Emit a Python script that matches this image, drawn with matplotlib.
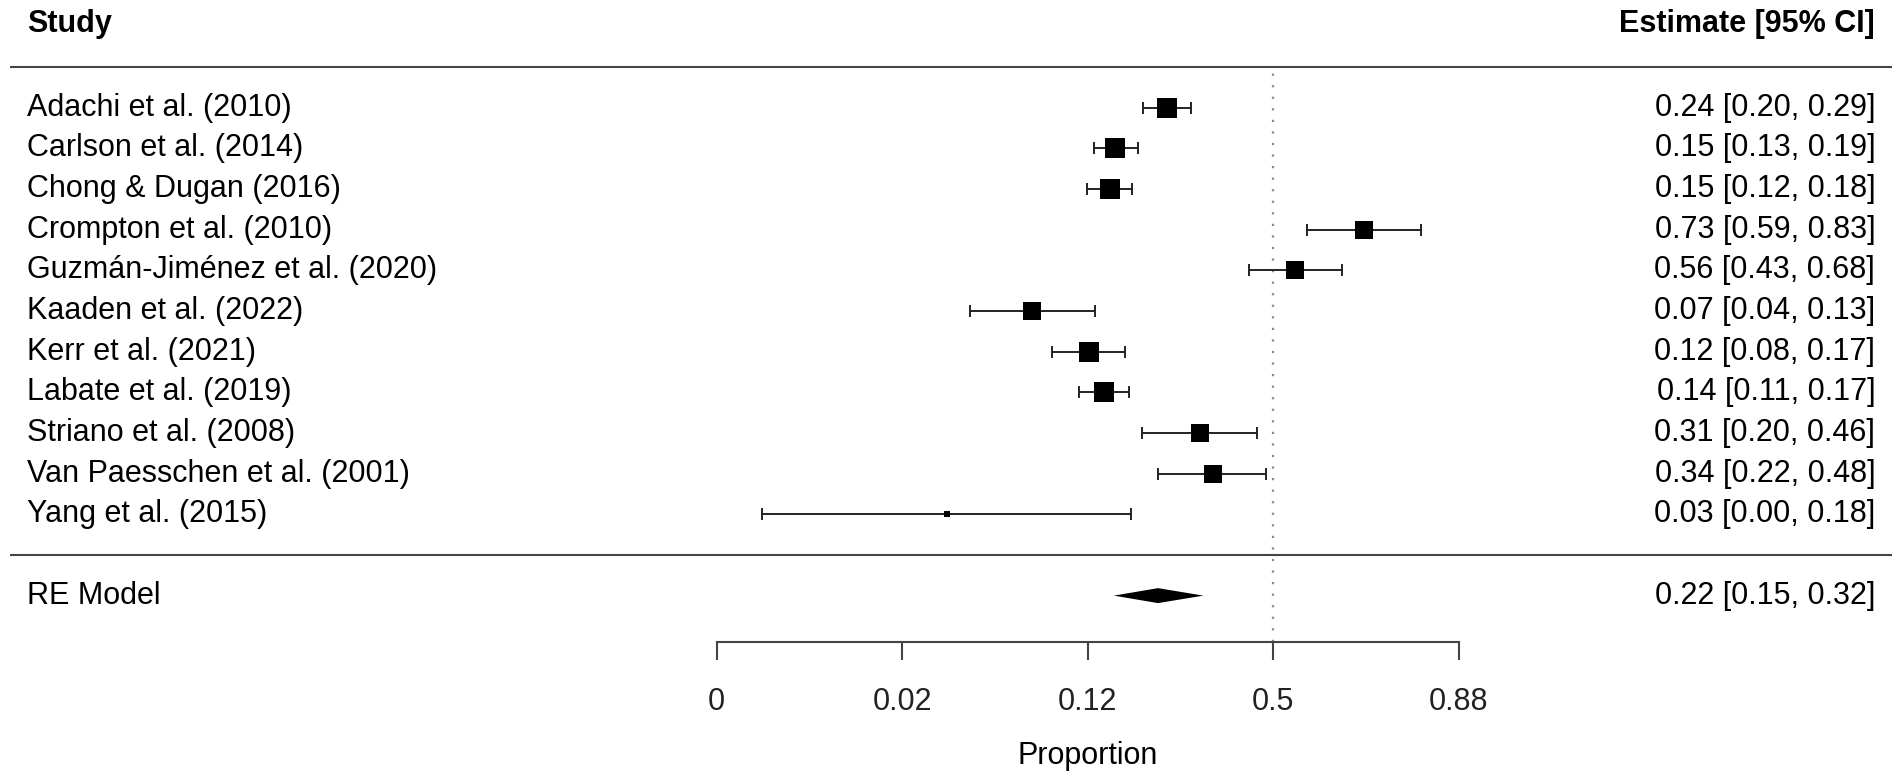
import numpy as np
import matplotlib.pyplot as plt

plt.rcParams['font.family'] = ['Liberation Sans', 'DejaVu Sans']

studies = ["Adachi et al. (2010)", "Carlson et al. (2014)", "Chong & Dugan (2016)",
           "Crompton et al. (2010)", "Guzmán-Jiménez et al. (2020)", "Kaaden et al. (2022)",
           "Kerr et al. (2021)", "Labate et al. (2019)", "Striano et al. (2008)",
           "Van Paesschen et al. (2001)", "Yang et al. (2015)"]
est = [0.2406, 0.1543, 0.1467, 0.7267, 0.558, 0.0693, 0.1206, 0.1383, 0.313, 0.342, 0.0287]
ci_lo = [0.1965, 0.126, 0.1185, 0.5906, 0.434, 0.0366, 0.0843, 0.1096, 0.196, 0.224, 0.0040]
ci_hi = [0.2917, 0.188, 0.1797, 0.8314, 0.678, 0.128, 0.168, 0.174, 0.457, 0.481, 0.178]
weights = [9.98, 10.25, 10.25, 9.33, 9.54, 8.89, 9.87, 10.25, 9.33, 9.33, 3.00]

re_est, re_lo, re_hi = 0.224, 0.152, 0.320
tick_pos = [-6, -4, -2, 0, 2]


def logit(p):
    p = np.asarray(p, dtype=float)
    return np.log(p / (1 - p))


def fmt_tick(v):
    p = round(1 / (1 + np.exp(-v)), 2)
    return f"{p:g}"


k = len(studies)
rows = np.arange(k, 0, -1)
yi, lo, hi = logit(est), logit(ci_lo), logit(ci_hi)

fig = plt.figure(figsize=(19.01, 7.79), dpi=100)
ax = fig.add_axes([0, 0, 1, 1])
ax.set_xlim(-13.728, 6.768)
ax.set_ylim(-5.51, 13.649)

line_col = '#444444'
fs = 22
x_left, x_right = -13.44, 6.49

# header and separators
ax.text(x_left, 13.07, "Study", fontsize=fs, fontweight='bold', va='center', ha='left')
ax.text(x_right, 13.07, "Estimate [95% CI]", fontsize=fs, fontweight='bold', va='center', ha='right')
ax.hlines([12, 0], -13.62, 6.67, color=line_col, lw=1.5)

# reference line
ax.vlines(0, -2.148, 12, color='#8a8a8a', lw=1.6, linestyles=(0, (1, 4.2)))

# study estimates
w = np.array(weights)
psize = 0.5 + (w - w.min()) / (w.max() - w.min())
for r, y, l, h, s, name, e, a, b in zip(rows, yi, lo, hi, psize, studies, est, ci_lo, ci_hi):
    ax.errorbar(y, r, xerr=[[y - l], [h - y]], fmt='none', ecolor='#222222',
                elinewidth=1.4, capsize=4.2, capthick=1.4)
    ax.plot(y, r, marker='s', color='black', markersize=s * 13.33 / 1.389, mew=0)
    ax.text(x_left, r, name, fontsize=fs, va='center', ha='left')
    ax.text(x_right, r, f"{e:.2f} [{a:.2f}, {b:.2f}]", fontsize=fs, va='center', ha='right')

# summary diamond
d_est, d_lo, d_hi = logit([re_est, re_lo, re_hi])
hh = 0.184
ax.fill([d_lo, d_est, d_hi, d_est], [-1, -1 + hh, -1, -1 - hh], color='black', lw=0)
ax.text(x_left, -1, "RE Model", fontsize=fs, va='center', ha='left')
ax.text(x_right, -1, f"{re_est:.2f} [{re_lo:.2f}, {re_hi:.2f}]", fontsize=fs, va='center', ha='right')

# x axis
for side in ['left', 'right', 'top']:
    ax.spines[side].set_visible(False)
ax.spines['bottom'].set_position(('data', -2.148))
ax.spines['bottom'].set_bounds(-6, 2)
ax.spines['bottom'].set_color(line_col)
ax.spines['bottom'].set_linewidth(1.5)
ax.set_xticks(tick_pos)
ax.set_xticklabels([fmt_tick(v) for v in tick_pos])
ax.tick_params(axis='x', length=13, width=1.5, color=line_col, labelsize=fs, pad=19.5,
               labelcolor='#222222')
ax.set_yticks([])
ax.text(-2, -4.94, "Proportion", fontsize=fs, ha='center', va='center')

fig.savefig('out.png', dpi=100)
